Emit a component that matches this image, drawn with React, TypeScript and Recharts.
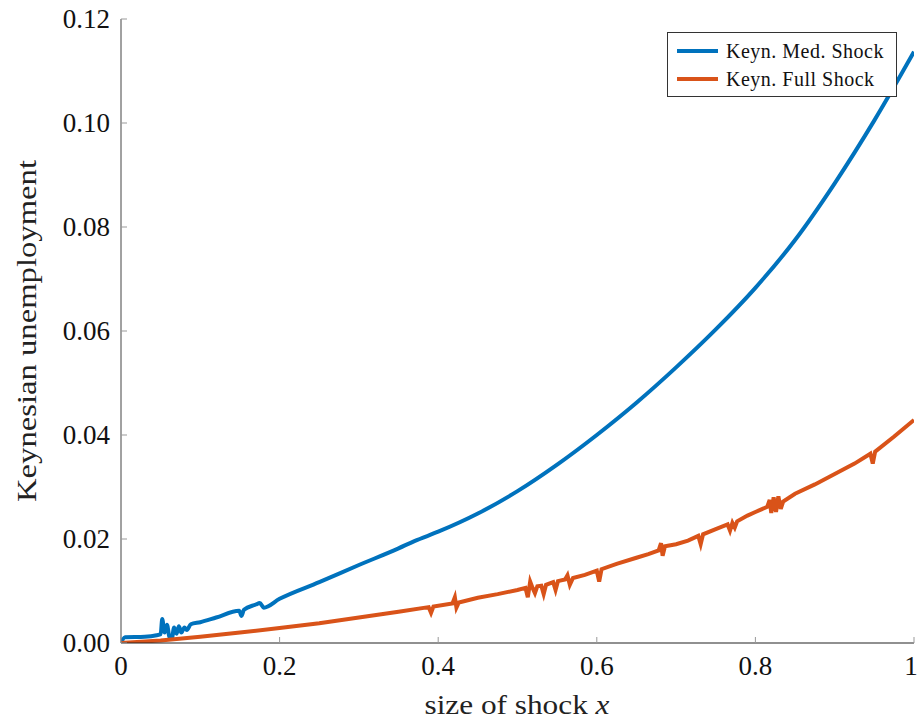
import React from "react";
import { LineChart, Line, XAxis, YAxis, Legend } from "recharts";

// Keynesian unemployment vs size of shock
const medShockX = [0, 0.005, 0.03, 0.045, 0.05, 0.052, 0.055, 0.058, 0.061, 0.064, 0.067, 0.07, 0.073, 0.076, 0.08, 0.083, 0.088, 0.1, 0.12, 0.149, 0.152, 0.155, 0.17, 0.175, 0.18, 0.2, 0.25, 0.3, 0.35, 0.37, 0.4, 0.45, 0.5, 0.55, 0.6, 0.65, 0.7, 0.75, 0.8, 0.85, 0.9, 0.95, 1];
const medShockY = [0, 0.0011, 0.0012, 0.0015, 0.0017, 0.0046, 0.002, 0.0035, 0.0012, 0.0008, 0.003, 0.0018, 0.0032, 0.002, 0.003, 0.0025, 0.0036, 0.004, 0.0049, 0.0062, 0.0052, 0.0064, 0.0074, 0.0077, 0.0068, 0.0085, 0.0117, 0.015, 0.0182, 0.0196, 0.0214, 0.0249, 0.0292, 0.0343, 0.04, 0.0462, 0.053, 0.0603, 0.0683, 0.0775, 0.0884, 0.1005, 0.1137];

const fullShockX = [0, 0.05, 0.1, 0.15, 0.2, 0.25, 0.3, 0.35, 0.388, 0.391, 0.394, 0.418, 0.421, 0.423, 0.426, 0.45, 0.475, 0.5, 0.51, 0.513, 0.516, 0.519, 0.522, 0.525, 0.53, 0.533, 0.536, 0.545, 0.548, 0.551, 0.56, 0.563, 0.566, 0.57, 0.585, 0.6, 0.603, 0.606, 0.625, 0.65, 0.665, 0.678, 0.681, 0.683, 0.686, 0.7, 0.715, 0.728, 0.731, 0.734, 0.75, 0.765, 0.768, 0.771, 0.774, 0.777, 0.79, 0.8, 0.815, 0.818, 0.82, 0.823, 0.826, 0.829, 0.832, 0.835, 0.85, 0.875, 0.9, 0.925, 0.945, 0.948, 0.951, 0.975, 1];
const fullShockY = [0, 0.0005, 0.0012, 0.002, 0.0029, 0.0038, 0.0049, 0.006, 0.0069, 0.0058, 0.007, 0.0076, 0.0088, 0.0068, 0.0078, 0.0087, 0.0094, 0.0102, 0.0106, 0.0088, 0.0118, 0.0106, 0.0096, 0.0109, 0.011, 0.0094, 0.0112, 0.0117, 0.0102, 0.0119, 0.0122, 0.013, 0.0112, 0.0125, 0.0131, 0.0139, 0.0118, 0.0142, 0.0152, 0.0164, 0.0171, 0.0178, 0.0192, 0.0168, 0.0186, 0.019, 0.0197, 0.0206, 0.019, 0.0209, 0.0219, 0.0228, 0.0216, 0.0231, 0.0222, 0.0234, 0.0245, 0.0252, 0.0262, 0.0275, 0.025, 0.028, 0.0252, 0.0282, 0.0258, 0.0272, 0.0287, 0.0305, 0.0325, 0.0345, 0.0364, 0.0345, 0.0368, 0.0397, 0.0429];

const xTicks = [0, 0.2, 0.4, 0.6, 0.8, 1];
const yTicks = [0, 0.02, 0.04, 0.06, 0.08, 0.1, 0.12];

const seriesNames = ["Keyn. Med. Shock", "Keyn. Full Shock"];
const seriesColors = ["#0072BD", "#D95319"];

const medData = medShockX.map((x, i) => ({ x, y: medShockY[i] }));
const fullData = fullShockX.map((x, i) => ({ x, y: fullShockY[i] }));

const FONT = "'Liberation Serif', serif";
const TICK_COLOR = "#999";
const FRAME = "#444";

const BottomTick = (p: any) => {
  const v = p.payload.value;
  const label = v === 0 || v === 1 ? String(v) : v.toFixed(1);
  return (
    <g>
      <line x1={p.x} y1={p.y} x2={p.x} y2={p.y - 6} stroke={TICK_COLOR} />
      <text x={v === 1 ? p.x - 3 : p.x} y={p.y + 32} textAnchor="middle" fontFamily={FONT} fontSize={27} fill="#111">
        {label}
      </text>
    </g>
  );
};

const LeftTick = (p: any) => (
  <g>
    <line x1={p.x} y1={p.y} x2={p.x + 6} y2={p.y} stroke={TICK_COLOR} />
    <text x={p.x - 11} y={p.y + 9} textAnchor="end" fontFamily={FONT} fontSize={27} fill="#111">
      {p.payload.value.toFixed(2)}
    </text>
  </g>
);

const TopTick = (p: any) => <line x1={p.x} y1={p.y} x2={p.x} y2={p.y + 6} stroke={TICK_COLOR} />;
const RightTick = (p: any) => <line x1={p.x} y1={p.y} x2={p.x - 6} y2={p.y} stroke={TICK_COLOR} />;

const LegendBox = () => (
  <div
    style={{
      border: "1px solid #333",
      background: "#fff",
      width: 230,
      height: 65,
      boxSizing: "border-box",
      padding: "4px 0 0 9px",
      fontFamily: FONT,
      fontSize: 20,
      letterSpacing: 0.5,
      color: "#111",
    }}
  >
    {seriesNames.map((name, i) => (
      <div key={name} style={{ display: "flex", alignItems: "center", height: 28 }}>
        <span style={{ display: "inline-block", width: 41, height: 4, background: seriesColors[i], marginRight: 8 }} />
        <span>{name}</span>
      </div>
    ))}
  </div>
);

export default function App() {
  return (
    <div style={{ position: "absolute", left: 0, top: 0, width: 919, height: 721, background: "#fff" }}>
      <LineChart width={919} height={721} margin={{ top: 19, right: 5, bottom: 0, left: 0 }}>
        <XAxis
          dataKey="x"
          type="number"
          domain={[0, 1]}
          ticks={xTicks}
          allowDataOverflow
          height={78}
          tickSize={0}
          tickMargin={0}
          tickLine={false}
          axisLine={{ stroke: "#222", strokeWidth: 1.2 }}
          tick={BottomTick}
          label={{ value: "size of shock", content: () => (
            <text x={517} y={714} textAnchor="middle" fontFamily={FONT} fontSize={28} fill="#222" textLength={185} lengthAdjust="spacingAndGlyphs">
              size of shock <tspan fontStyle="italic">x</tspan>
            </text>
          ) }}
        />
        <XAxis
          xAxisId="top"
          dataKey="x"
          type="number"
          orientation="top"
          domain={[0, 1]}
          ticks={xTicks}
          allowDataOverflow
          height={0}
          tickSize={0}
          tickMargin={0}
          tickLine={false}
          axisLine={{ stroke: FRAME }}
          tick={TopTick}
        />
        <YAxis
          type="number"
          domain={[0, 0.12]}
          ticks={yTicks}
          allowDataOverflow
          width={121}
          tickSize={0}
          tickMargin={0}
          tickLine={false}
          axisLine={{ stroke: FRAME }}
          tick={LeftTick}
          label={{ value: "Keynesian unemployment", content: () => (
            <text x={36} y={331} transform="rotate(-90 36 331)" textAnchor="middle" fontFamily={FONT} fontSize={28} fill="#222" textLength={342} lengthAdjust="spacingAndGlyphs">
              Keynesian unemployment
            </text>
          ) }}
        />
        <YAxis
          yAxisId="right"
          orientation="right"
          type="number"
          domain={[0, 0.12]}
          ticks={yTicks}
          allowDataOverflow
          width={0}
          tickSize={0}
          tickMargin={0}
          tickLine={false}
          axisLine={{ stroke: FRAME }}
          tick={RightTick}
        />
        <Legend
          layout="vertical"
          align="center"
          verticalAlign="middle"
          wrapperStyle={{ position: "absolute", left: 667, top: 32, width: 230, height: 65 }}
          content={LegendBox}
        />
        <Line data={medData} dataKey="y" type="monotone" stroke={seriesColors[0]} strokeWidth={4} dot={false} isAnimationActive={false} name={seriesNames[0]} />
        <Line data={fullData} dataKey="y" type="linear" stroke={seriesColors[1]} strokeWidth={4} dot={false} isAnimationActive={false} name={seriesNames[1]} />
      </LineChart>
    </div>
  );
}
